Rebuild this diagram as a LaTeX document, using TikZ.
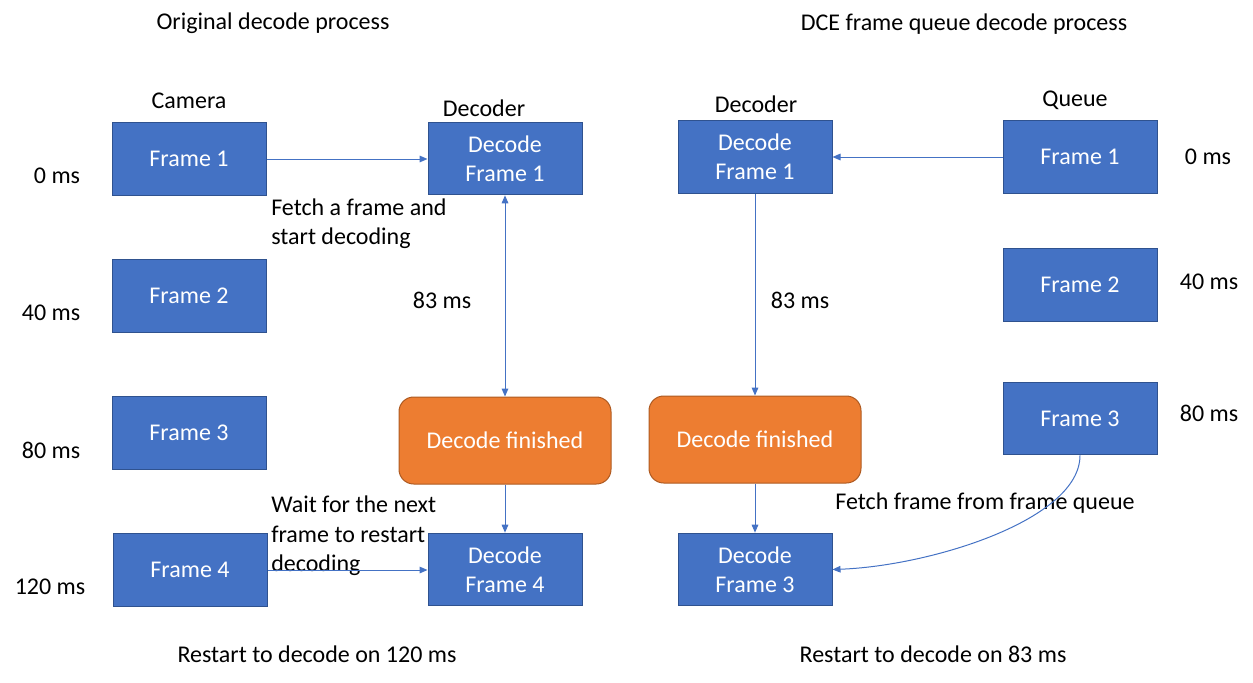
\documentclass[tikz,border=0pt]{standalone}
\usepackage{fontspec}
\setmainfont{Carlito}
\usetikzlibrary{arrows.meta}
\definecolor{bfill}{HTML}{4472C4}
\definecolor{bdraw}{HTML}{2F528F}
\definecolor{ofill}{HTML}{ED7D31}
\definecolor{odraw}{HTML}{AE5A21}
\definecolor{arrc}{HTML}{4472C4}
\tikzset{
  bluebox/.style={draw=bdraw, fill=bfill, line width=0.75pt, minimum width=115.5pt, minimum height=54.5pt, inner sep=0pt, text=white, align=center, font=\fontsize{18}{21.5}\selectfont},
  finbox/.style={draw=odraw, fill=ofill, line width=0.75pt, rounded corners=11pt, minimum width=159pt, minimum height=65.25pt, inner sep=0pt, text=white, font=\fontsize{18}{21.5}\selectfont},
  lbl/.style={inner sep=0pt, text=black, font=\fontsize{18}{22}\selectfont},
  arr/.style={draw=arrc, line width=0.75pt, -{Triangle[length=6pt,width=5pt]}},
  darr/.style={draw=arrc, line width=0.75pt, {Triangle[length=6pt,width=5pt]}-{Triangle[length=6pt,width=5pt]}}
}
\begin{document}
\begin{tikzpicture}[x=0.75pt,y=-0.75pt]
\useasboundingbox (0,0) rectangle (1253,682);
% titles
\node[lbl] (t1) at (273,23) {Original decode process};
\node[lbl] (t2) at (964,24) {DCE frame queue decode process};
\node[lbl] (hcam) at (189,101) {Camera};
\node[lbl] (hdec1) at (484,108) {Decoder};
\node[lbl] (hdec2) at (756,104) {Decoder};
\node[lbl] (hq) at (1075,100) {Queue};
% time labels
\node[lbl] (l0) at (57,176) {0 ms};
\node[lbl] (l40) at (51,313) {40 ms};
\node[lbl] (l80) at (51,450) {80 ms};
\node[lbl] (l120) at (50,587) {120 ms};
\node[lbl] (r0) at (1208,157) {0 ms};
\node[lbl] (r40) at (1209,282) {40 ms};
\node[lbl] (r80) at (1209,413) {80 ms};
% left boxes
\node[bluebox] (c1) at (189,159) {Frame 1};
\node[bluebox] (c2) at (189,296) {Frame 2};
\node[bluebox] (c3) at (189,433) {Frame 3};
\node[bluebox] (c4) at (190,570) {Frame 4};
\node[bluebox] (d1) at (505,158.5) {Decode\\Frame 1};
\node[finbox] (f1) at (505,440.5) {Decode finished};
\node[bluebox] (d4) at (505,569.5) {Decode\\Frame 4};
% right boxes
\node[bluebox] (e1) at (755,157) {Decode\\Frame 1};
\node[finbox] (f2) at (755,439.5) {Decode finished};
\node[bluebox] (e3) at (755,569.5) {Decode\\Frame 3};
\node[bluebox] (q1) at (1080,157) {Frame 1};
\node[bluebox] (q2) at (1080,285) {Frame 2};
\node[bluebox] (q3) at (1080,418.5) {Frame 3};
% annotations
\node[lbl, anchor=west, align=left] (fetch1) at (271,223.5) {Fetch a frame and\\start decoding};
\node[lbl, anchor=west, align=left] (wait) at (271,536) {Wait for the next\\frame to restart\\decoding};
\node[lbl] (m1) at (442,300) {83 ms};
\node[lbl] (m2) at (800,300) {83 ms};
\node[lbl] (fetch2) at (985,503) {Fetch frame from frame queue};
\node[lbl] (b1) at (317,654) {Restart to decode on 120 ms};
\node[lbl] (b2) at (933,654) {Restart to decode on 83 ms};
% connectors
\draw[arr] (c1.east) -- (c1.east -| d1.west);
\draw[darr] (d1.south) -- (f1.north);
\draw[arr] (f1.south) -- (d4.north);
\draw[arr] (c4.east) -- (c4.east -| d4.west);
\draw[arr] (q1.west) -- (e1.east);
\draw[arr] (e1.south) -- (f2.north);
\draw[arr] (f2.south) -- (e3.north);
\draw[arr] (q3.south) .. controls (1080,520) and (930,566) .. (e3.east);
\end{tikzpicture}
\end{document}
